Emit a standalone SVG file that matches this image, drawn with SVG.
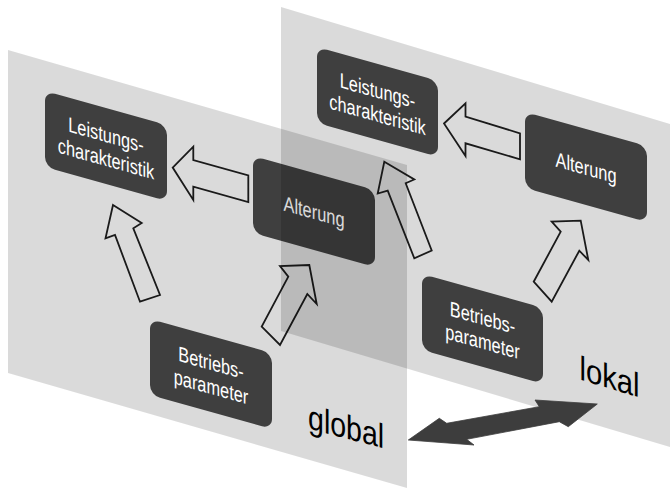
<svg xmlns="http://www.w3.org/2000/svg" width="670" height="494" viewBox="0 0 670 494">
  <defs>
    <style>
      .plane { fill: #000; fill-opacity: 0.145; stroke: none; }
      .box { fill: #3f3f3f; }
      .lbl { font-family: "Liberation Sans", Arial, sans-serif; font-size: 21px; fill: #ffffff; text-anchor: middle; }
      .hollow { fill: none; stroke: #1a1a1a; stroke-width: 1.8; stroke-linejoin: miter; }
      .big { font-family: "Liberation Sans", Arial, sans-serif; font-size: 34px; fill: #000; }
      .dbl { fill: #3d3d3d; stroke: #3d3d3d; stroke-width: 0.8; stroke-linejoin: round; }
    </style>
  </defs>

  <!-- global plane (back) -->
  <polygon id="plane-global" class="plane" points="8,50 407,165 407,488 8,373"/>

  <g id="global-nodes">
    <g id="g-leistung" transform="translate(45,91) skewY(15.6)">
      <rect class="box" x="0" y="0" width="122" height="76" rx="10"/>
      <g transform="translate(61,0) scale(0.78,1)">
        <text class="lbl" x="0" y="34">Leistungs-</text>
        <text class="lbl" x="0" y="58">charakteristik</text>
      </g>
    </g>
    <g id="g-alterung" transform="translate(253,156) skewY(15.6)">
      <rect class="box" x="0" y="0" width="122" height="77" rx="10"/>
      <g transform="translate(61,0) scale(0.78,1)">
        <text class="lbl" x="0" y="46">Alterung</text>
      </g>
    </g>
    <g id="g-betrieb" transform="translate(150,319) skewY(15.6)">
      <rect class="box" x="0" y="0" width="122" height="76" rx="10"/>
      <g transform="translate(61,0) scale(0.78,1)">
        <text class="lbl" x="0" y="34">Betriebs-</text>
        <text class="lbl" x="0" y="58">parameter</text>
      </g>
    </g>
  </g>

  <g id="global-connectors">
    <polygon class="hollow" points="172.7,167.6 193.3,146.7 193.3,160 248.3,175.5 248.3,202 193.3,186.7 193.3,200"/>
    <polygon class="hollow" points="113,205 141.7,223 133.3,228.3 160,295 140,301.7 115,235 105.5,238.3"/>
    <polygon class="hollow" points="309.3,265 316.7,304 307.3,294 280,345 261.7,326.7 288.3,276.7 280,266"/>
  </g>

  <!-- local plane (drawn over the global one) -->
  <polygon id="plane-local" class="plane" points="281,7 700,133 700,456 281,331"/>

  <g id="local-nodes">
    <g id="l-leistung" transform="translate(317,47) skewY(15.6)">
      <rect class="box" x="0" y="0" width="121" height="76" rx="10"/>
      <g transform="translate(60.5,0) scale(0.78,1)">
        <text class="lbl" x="0" y="34">Leistungs-</text>
        <text class="lbl" x="0" y="58">charakteristik</text>
      </g>
    </g>
    <g id="l-alterung" transform="translate(525,112) skewY(15.6)">
      <rect class="box" x="0" y="0" width="122" height="76" rx="10"/>
      <g transform="translate(61,0) scale(0.78,1)">
        <text class="lbl" x="0" y="46">Alterung</text>
      </g>
    </g>
    <g id="l-betrieb" transform="translate(422,274) skewY(15.6)">
      <rect class="box" x="0" y="0" width="121" height="76" rx="10"/>
      <g transform="translate(60.5,0) scale(0.78,1)">
        <text class="lbl" x="0" y="34">Betriebs-</text>
        <text class="lbl" x="0" y="58">parameter</text>
      </g>
    </g>
  </g>

  <g id="local-connectors">
    <polygon class="hollow" points="444,123.5 465.5,103.3 465.5,116.7 520,133.3 520,159.3 465.5,143.3 465.5,156"/>
    <polygon class="hollow" points="384.3,161.7 414.3,179.5 405.7,183.3 431.7,250.5 414.3,258.3 387.7,190.7 377.7,193.5"/>
    <polygon class="hollow" points="580.7,220.7 588.3,260 579.3,250.7 551.7,301.7 533.7,281.7 560.7,231.7 551.7,221.7"/>
  </g>

  <!-- plane labels -->
  <g id="label-global" transform="translate(308,428.5) skewY(14.6) scale(0.84,1)">
    <text class="big" x="0" y="0">global</text>
  </g>
  <g id="label-lokal" transform="translate(579.5,379.5) skewY(16.7) scale(0.86,1)">
    <text class="big" x="0" y="0">lokal</text>
  </g>

  <!-- link between the two levels -->
  <g id="link">
    <polygon class="dbl" points="408.3,440 439.3,418.3 446.7,423.3 539.3,406.7 535,400 597.3,404 568.3,426.7 559.3,421.7 466.7,439.3 474,445"/>
  </g>
</svg>
